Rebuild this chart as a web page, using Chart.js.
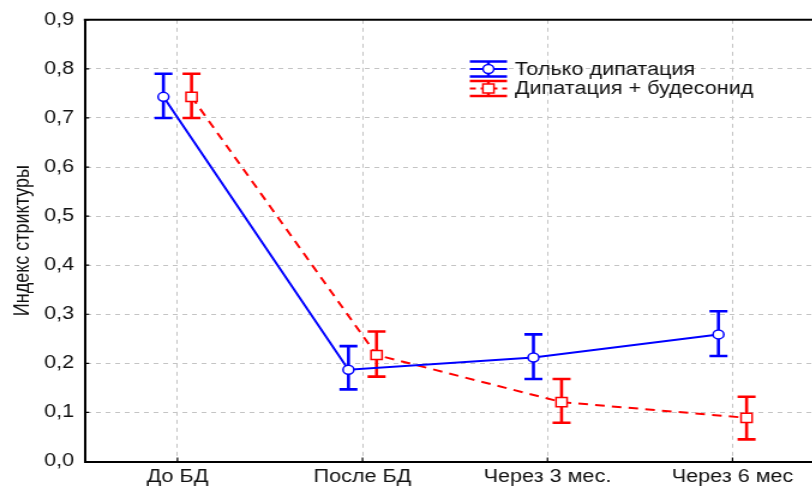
<!DOCTYPE html>
<html><head><meta charset="utf-8">
<script src="https://cdn.jsdelivr.net/npm/chart.js@4.4.0/dist/chart.umd.min.js"></script>
<style>
html,body{margin:0;padding:0;background:#fff;overflow:hidden;}
#wrap{width:812px;height:491px;overflow:hidden;position:relative;background:#fff;}
#inner{position:absolute;left:0;top:0;transform:scaleX(1.2);transform-origin:0 0;}
</style></head><body>
<div id="wrap"><div id="inner"><canvas id="c" width="700" height="491"></canvas></div></div>
<script>
const categories = ['До БД', 'После БД', 'Через 3 мес.', 'Через 6 мес'];
const yTicks = [0, 0.1, 0.2, 0.3, 0.4, 0.5, 0.6, 0.7, 0.8, 0.9];
const seriesNames = ['Только дипатация', 'Дипатация + будесонид'];
const blueMean = [0.743, 0.187, 0.212, 0.259];
const blueLow  = [0.700, 0.147, 0.168, 0.215];
const blueHigh = [0.790, 0.235, 0.259, 0.306];
const redMean  = [0.743, 0.217, 0.121, 0.089];
const redLow   = [0.700, 0.173, 0.079, 0.045];
const redHigh  = [0.790, 0.265, 0.168, 0.132];

const FONT = 'Liberation Sans, Arial, sans-serif';
const BLUE = '#0000ff', RED = '#ff0000';
const OFF = 0.076;

function pts(means, off) { return means.map((m, i) => ({x: i + off, y: m})); }

const errorBars = {
  id: 'errorBars',
  beforeDatasetsDraw(chart) {
    const ctx = chart.ctx, xs = chart.scales.x, ys = chart.scales.y;
    chart.data.datasets.forEach(ds => {
      ctx.save();
      ctx.strokeStyle = ds.borderColor;
      ctx.lineWidth = 2.6;
      ds.data.forEach((p, i) => {
        const px = xs.getPixelForValue(p.x);
        const lo = ys.getPixelForValue(ds.lows[i]);
        const hi = ys.getPixelForValue(ds.highs[i]);
        ctx.beginPath();
        ctx.moveTo(px, lo); ctx.lineTo(px, hi);
        ctx.moveTo(px - 7.5, lo); ctx.lineTo(px + 7.5, lo);
        ctx.moveTo(px - 7.5, hi); ctx.lineTo(px + 7.5, hi);
        ctx.stroke();
      });
      ctx.restore();
    });
  }
};

const frame = {
  id: 'frame',
  afterDraw(chart) {
    const ctx = chart.ctx, a = chart.chartArea, xs = chart.scales.x, ys = chart.scales.y;
    ctx.save();
    ctx.strokeStyle = '#000';
    ctx.lineWidth = 2;
    ctx.beginPath();
    ctx.moveTo(a.left - 1, a.top); ctx.lineTo(a.right + 20, a.top);
    ctx.stroke();
    ctx.lineWidth = 1.2;
    ctx.beginPath();
    yTicks.forEach(v => {
      const py = ys.getPixelForValue(v);
      ctx.moveTo(a.left, py); ctx.lineTo(a.left + 3.5, py);
    });
    categories.forEach((c, i) => {
      const px = xs.getPixelForValue(i);
      ctx.moveTo(px, a.bottom); ctx.lineTo(px, a.bottom - 4);
    });
    ctx.stroke();
    ctx.restore();
  }
};

const legendBox = {
  id: 'legendBox',
  afterDraw(chart) {
    const ctx = chart.ctx;
    const x0 = 391.5, x1 = 422.5, xc = (x0 + x1) / 2, tx = 429;
    const rows = [{c: 69, color: BLUE, name: seriesNames[0], marker: 'circle', dash: []},
                  {c: 88.5, color: RED, name: seriesNames[1], marker: 'rect', dash: [5, 4]}];
    rows.forEach(r => {
      ctx.save();
      ctx.strokeStyle = r.color;
      ctx.lineWidth = 2.5;
      ctx.beginPath();
      ctx.moveTo(x0, r.c - 7.5); ctx.lineTo(x1, r.c - 7.5);
      ctx.moveTo(x0, r.c + 7.5); ctx.lineTo(x1, r.c + 7.5);
      ctx.moveTo(xc, r.c - 7.5); ctx.lineTo(xc, r.c + 7.5);
      ctx.stroke();
      ctx.lineWidth = 2;
      ctx.setLineDash(r.dash);
      ctx.beginPath();
      ctx.moveTo(x0, r.c); ctx.lineTo(x1, r.c);
      ctx.stroke();
      ctx.setLineDash([]);
      ctx.fillStyle = '#fff';
      ctx.lineWidth = 1.5;
      ctx.beginPath();
      if (r.marker === 'circle') ctx.arc(xc, r.c, 4.5, 0, Math.PI * 2);
      else ctx.rect(xc - 4.6, r.c - 4.6, 9.2, 9.2);
      ctx.fill(); ctx.stroke();
      ctx.fillStyle = '#111';
      ctx.font = '18px ' + FONT;
      ctx.textBaseline = 'middle';
      ctx.textAlign = 'left';
      ctx.fillText(r.name, tx, r.c + 1);
      ctx.restore();
    });
  }
};

new Chart(document.getElementById('c'), {
  type: 'line',
  data: {
    datasets: [
      {label: seriesNames[0], data: pts(blueMean, -OFF), lows: blueLow, highs: blueHigh,
       borderColor: BLUE, borderWidth: 2, pointStyle: 'circle', pointRadius: 4.5,
       pointBackgroundColor: '#fff', pointBorderColor: BLUE, pointBorderWidth: 1.5, tension: 0},
      {label: seriesNames[1], data: pts(redMean, OFF), lows: redLow, highs: redHigh,
       borderColor: RED, borderWidth: 2, borderDash: [8, 6], pointStyle: 'rect', pointRadius: 6.5,
       pointBackgroundColor: '#fff', pointBorderColor: RED, pointBorderWidth: 1.5, tension: 0}
    ]
  },
  options: {
    responsive: false,
    animation: false,
    devicePixelRatio: 1,
    layout: {padding: {top: 17, right: 12.5, left: 0, bottom: 0}},
    plugins: {legend: {display: false}, tooltip: {enabled: false}},
    scales: {
      x: {
        type: 'linear', min: -0.5, max: 3.5,
        afterBuildTicks: s => { s.ticks = categories.map((c, i) => ({value: i})); },
        afterFit: s => { s.height = 29.5; },
        ticks: {callback: v => categories[Math.round(v)], autoSkip: false, maxRotation: 0,
                padding: 5, color: '#111', font: {family: FONT, size: 18}},
        grid: {color: '#c4c4c4', drawTicks: false},
        border: {display: true, color: '#000', width: 2, dash: [4, 4]}
      },
      y: {
        min: 0, max: 0.9,
        afterBuildTicks: s => { s.ticks = yTicks.map(v => ({value: v})); },
        afterFit: s => { s.width = 70.8; },
        ticks: {callback: v => v.toFixed(1).replace('.', ','), padding: 9, color: '#111',
                font: {family: FONT, size: 18}},
        grid: {color: '#c4c4c4', drawTicks: false},
        border: {display: true, color: '#000', width: 2, dash: [4, 4]},
        title: {display: true, text: 'Индекс стриктуры', color: '#111',
                font: {family: FONT, size: 18}, padding: {top: 8, bottom: 0}}
      }
    }
  },
  plugins: [errorBars, frame, legendBox]
});
</script>
</body></html>
